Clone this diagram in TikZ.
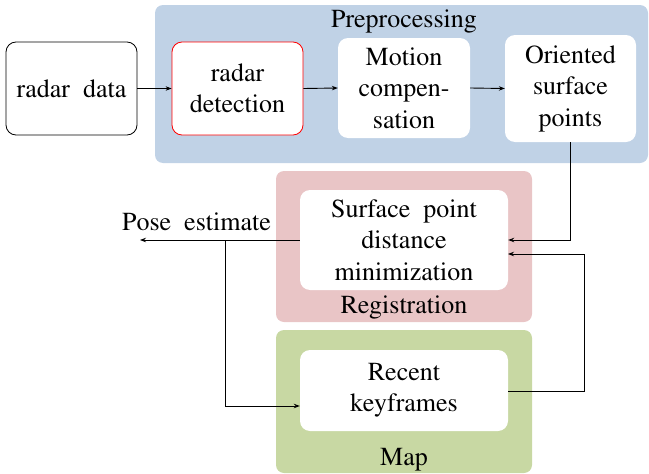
\documentclass[tikz,border=0pt]{standalone}
\usepackage[T1]{fontenc}
\usepackage{mathptmx}
\usetikzlibrary{arrows.meta}
\definecolor{preblue}{RGB}{192,210,230}
\definecolor{regpink}{RGB}{233,197,198}
\definecolor{mapgreen}{RGB}{200,216,163}
\tikzset{
  bg/.style={rounded corners=8pt, draw=none},
  wbox/.style={rounded corners=10pt, fill=white, inner sep=0pt, align=center, font=\rmfamily\fontsize{26}{31.5}\selectfont},
  lbl/.style={font=\rmfamily\fontsize{26}{31.5}\selectfont, inner sep=0pt, anchor=base},
  conn/.style={line width=0.9pt, -{Stealth[length=6pt,width=4.5pt]}},
  plain/.style={line width=0.9pt}
}
\begin{document}
\begin{tikzpicture}[x=1pt,y=-1pt]
\useasboundingbox (0,0) rectangle (649,474);
% backgrounds
\fill[bg, preblue] (155,5) rectangle (648,163);
\fill[bg, regpink] (276,171) rectangle (532,322);
\fill[bg, mapgreen] (276,330) rectangle (532,473);
% group labels
\node[lbl] (prelbl) at (404,27) {Preprocessing};
\node[lbl] (reglbl) at (404,313) {Registration};
\node[lbl] (maplbl) at (404,465) {Map};
% boxes
\node[wbox, draw=black, line width=0.8pt, minimum width=131pt, minimum height=93pt] (rd) at (71.5,88.5) {radar\ \ data};
\node[wbox, draw=red, line width=0.8pt, minimum width=131pt, minimum height=93pt] (det) at (237.5,88.5) {radar\\detection};
\node[wbox, minimum width=132pt, minimum height=100pt] (mot) at (404,88) {Motion\\compen-\\sation};
\node[wbox, minimum width=131pt, minimum height=107pt] (ori) at (570.5,88.5) {Oriented\\surface\\points};
\node[wbox, minimum width=208pt, minimum height=100pt] (sur) at (404,240) {Surface\ \ point\\distance\\minimization};
\node[wbox, minimum width=208pt, minimum height=81pt] (rec) at (404,390.5) {Recent\\keyframes};
% coordinates
\coordinate (poseend) at (140,240);
\coordinate (branch) at (225,240);
\coordinate (loopx) at (584,391);
\coordinate (surin2) at (508,254);
\coordinate (recin) at (225,406);
\node[lbl] (poselbl) at (196.5,230) {Pose\ \ estimate};
% connectors
\draw[conn] (rd.east) -- (det.west);
\draw[conn] (det.east) -- (mot.west);
\draw[conn] (mot.east) -- (ori.west);
\draw[conn] (ori.south) |- (sur.east);
\draw[conn] (rec.east |- loopx) -- (loopx) |- (surin2);
\draw[conn] (sur.west) -- (poseend);
\draw[conn] (branch) -- (recin) -- (rec.west |- recin);
\end{tikzpicture}
\end{document}
